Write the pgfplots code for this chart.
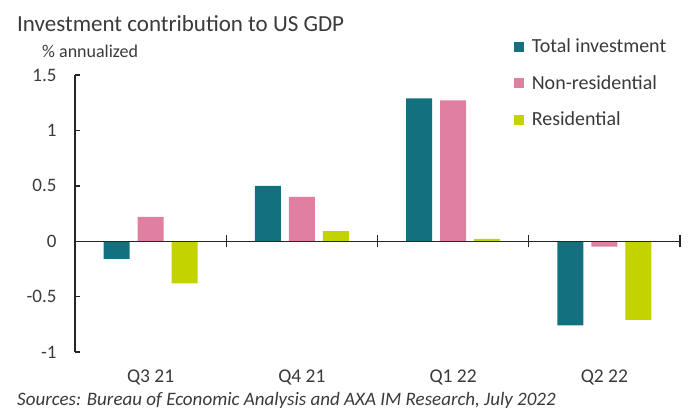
\documentclass[border=0pt]{standalone}
\usepackage{fontspec}
\setmainfont{Carlito}
\usepackage{pgfplots}
\pgfplotsset{compat=1.18}

\definecolor{totcol}{HTML}{13707F}
\definecolor{nrcol}{HTML}{E17FA2}
\definecolor{rescol}{HTML}{C3D300}
\definecolor{txt}{HTML}{3A3A3A}

\begin{document}
\begin{tikzpicture}[x=1pt,y=1pt]
\useasboundingbox (0,0) rectangle (690,410);
% titles outside the axis
\node[anchor=base west, inner sep=0, text=txt, font=\fontsize{23}{27}\selectfont] at (17,378) {Investment contribution to US GDP};
\node[anchor=base west, inner sep=0, text=txt, font=\fontsize{18}{21}\selectfont] at (42,352) {\% annualized};
\node[anchor=base west, inner sep=0, text=txt, font=\fontsize{19}{22}\selectfont\itshape] at (17,5) {Sources: Bureau of Economic Analysis and AXA IM Research, July 2022};

\begin{axis}[
    at={(75pt,58pt)}, anchor=south west,
    scale only axis, width=605pt, height=277pt,
    xmin=-0.5, xmax=3.5, ymin=-1, ymax=1.5,
    ybar, bar width=26pt,
    axis y line*=left, axis x line*=bottom,
    y axis line style={-, line width=1.4pt, black!85},
    x axis line style={draw=none},
    xtick={0,1,2,3},
    xticklabels={Q3 21, Q4 21, Q1 22, Q2 22},
    major x tick style={draw=none},
    ytick={-1,-0.5,0,0.5,1,1.5},
    yticklabels={-1,-0.5,0,0.5,1,1.5},
    major y tick style={line width=1.4pt, black!85},
    tick align=inside, major tick length=5pt,
    xticklabel style={font=\fontsize{19.5}{23}\selectfont, text=txt, yshift=-17pt, inner sep=1pt},
    yticklabel style={font=\fontsize{19}{22}\selectfont, text=txt, xshift=-15pt},
    /pgf/number format/assume math mode=true,
    legend cell align=left,
    legend style={at={(0.72,1.145)}, anchor=north west, draw=none, fill=none,
        font=\fontsize{20}{24}\selectfont, text=txt, row sep=17pt,
        /tikz/every odd column/.style={column sep=6pt}},
    legend image code/.code={\fill[#1,draw=none] (0pt,-5pt) rectangle (10pt,5pt);},
    clip=false,
]
\addplot[fill=totcol, draw=none, bar shift=-34pt] coordinates {(0,-0.16) (1,0.50) (2,1.29) (3,-0.76)};
\addplot[fill=nrcol, draw=none, bar shift=0pt] coordinates {(0,0.22) (1,0.40) (2,1.27) (3,-0.05)};
\addplot[fill=rescol, draw=none, bar shift=34pt] coordinates {(0,-0.38) (1,0.09) (2,0.02) (3,-0.71)};
\legend{Total investment, Non-residential, Residential}
\draw[line width=1.4pt, black!85] (axis cs:-0.5,0) -- (axis cs:3.5,0);
\pgfplotsinvokeforeach{0.5,1.5,2.5,3.5}{
  \draw[line width=1.4pt, black!85] (axis cs:#1,-0.055) -- (axis cs:#1,0.055);
}
\end{axis}
\end{tikzpicture}
\end{document}
